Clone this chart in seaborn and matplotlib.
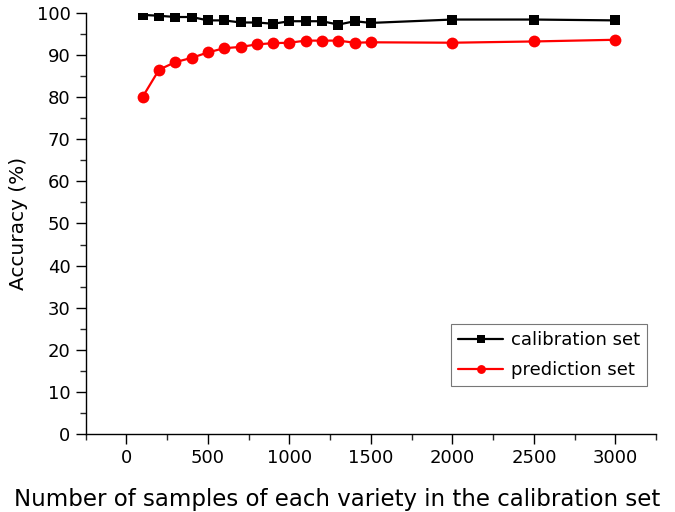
import pandas as pd
import numpy as np
import matplotlib
matplotlib.use("Agg")
import matplotlib.pyplot as plt
import seaborn as sns
from matplotlib.ticker import MultipleLocator

# muestras por variedad en el set de calibracion
n_samples = [100, 200, 300, 400, 500, 600, 700, 800, 900, 1000,
             1100, 1200, 1300, 1400, 1500, 2000, 2500, 3000]
calibration = [99.5, 99.3, 99.0, 99.0, 98.2, 98.2, 97.7, 97.7, 97.4, 98.0,
               98.0, 98.0, 97.2, 98.0, 97.6, 98.4, 98.4, 98.2]
prediction = [80.1, 86.5, 88.3, 89.3, 90.6, 91.6, 91.9, 92.5, 92.8, 92.9,
              93.4, 93.4, 93.4, 92.9, 93.0, 92.9, 93.2, 93.6]

df = pd.DataFrame({"x": n_samples, "cal": calibration, "pred": prediction})

sns.set_style("ticks")
plt.rcParams["font.family"] = ["DejaVu Sans"]
plt.rcParams["text.color"] = "black"
plt.rcParams["axes.labelcolor"] = "black"

fig = plt.figure(figsize=(6.75, 5.12), dpi=100)
ax = fig.add_axes([0.127, 0.152, 0.845, 0.823])

sns.lineplot(data=df, x="x", y="cal", color="black", marker="s", markersize=7,
             markeredgewidth=0, linewidth=1.6, label="calibration set", ax=ax)
sns.lineplot(data=df, x="x", y="pred", color="red", marker="o", markersize=8.5,
             markeredgewidth=0, linewidth=1.6, label="prediction set", ax=ax)

ax.set_xlim(-250, 3250)
ax.set_ylim(0, 100)
ax.set_xticks([0, 500, 1000, 1500, 2000, 2500, 3000])
ax.xaxis.set_minor_locator(MultipleLocator(250))
ax.yaxis.set_major_locator(MultipleLocator(10))
ax.yaxis.set_minor_locator(MultipleLocator(5))
ax.tick_params(axis="both", which="major", direction="out", length=7, width=1,
               labelsize=13, colors="black", pad=4)
ax.tick_params(axis="both", which="minor", direction="out", length=4, width=1)
for s in ["top", "right"]:
    ax.spines[s].set_visible(False)
for s in ["left", "bottom"]:
    ax.spines[s].set_linewidth(1)
    ax.spines[s].set_color("black")

ax.set_xlabel("Number of samples of each variety in the calibration set", fontsize=16.5)
ax.xaxis.set_label_coords(0.441, -0.128)
ax.set_ylabel("Accuracy (%)", fontsize=14.5, labelpad=6)

leg = ax.legend(loc="lower right", bbox_to_anchor=(0.984, 0.114), borderaxespad=0,
                fontsize=13, frameon=True, fancybox=False, edgecolor="#555555",
                handlelength=2.5, handletextpad=0.4, borderpad=0.4,
                labelspacing=0.65, markerscale=0.75)
leg.get_frame().set_linewidth(0.8)

fig.savefig("out.png", dpi=100)
